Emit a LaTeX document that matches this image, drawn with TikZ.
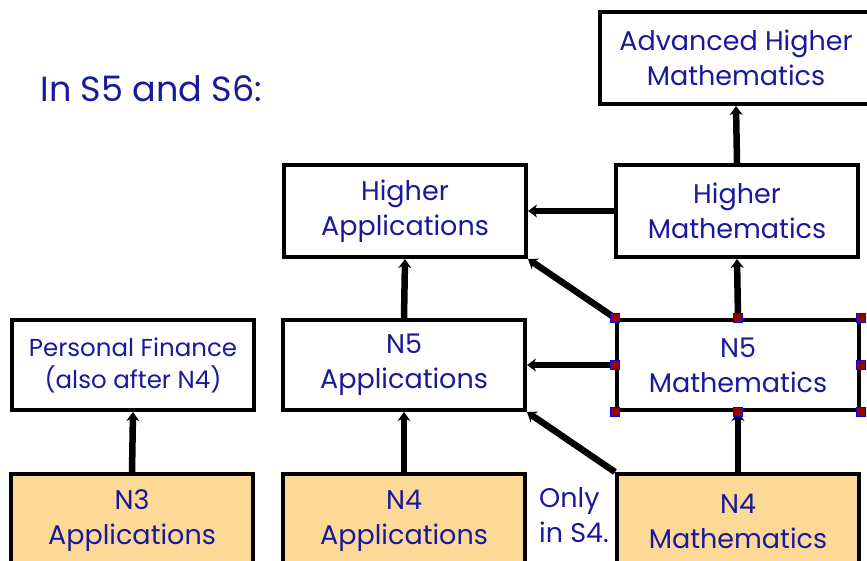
\documentclass[tikz,border=0pt]{standalone}
\usepackage{fontspec}
\setmainfont{Poppins}
\usepackage{xcolor}
\usepackage{tikz}
\usetikzlibrary{arrows.meta,positioning}
\definecolor{txtblue}{RGB}{25,25,155}
\definecolor{nfour}{RGB}{253,217,151}

\begin{document}
\begin{tikzpicture}[
        x=1pt, y=-1pt,
        font=\fontsize{27}{35}\selectfont,
        box/.style={draw, line width=4pt, align=center, text=txtblue, inner sep=0pt},
        wide/.style={box, minimum width=242pt, minimum height=92pt},
        lvl/.style={wide, fill=nfour},
        conn/.style={line width=6.5pt, -{Stealth[length=9pt,width=13pt]}},
        hdl/.style={draw=blue, fill=red!60!black, line width=1.2pt, minimum size=9pt, inner sep=0pt}
    ]
        \useasboundingbox (0,0) rectangle (867,561);
        \clip (0,0) rectangle (867,561);
        % heading
        \node[text=txtblue, anchor=west, font=\fontsize{35}{35}\selectfont] (title) at (37,89) {In S5 and S6:};
        % S5/S6 courses
        \node[box, minimum width=272pt, minimum height=92pt] (ahm) at (736,58) {Advanced Higher\\Mathematics};
        \node[wide] (ha) at (405,211) {Higher\\Applications};
        \node[wide] (hm) at (737,211) {Higher\\Mathematics};
        \node[wide, minimum height=90pt, font=\fontsize{24.5}{32}\selectfont] (pf) at (133,365) {Personal Finance\\(also after N4)};
        \node[wide, minimum height=90pt] (nfa) at (404,365) {N5\\Applications};
        \node[wide, minimum height=90pt] (nfm) at (738,365) {N5\\Mathematics};
        % S4 courses
        \node[lvl, minimum height=94pt] (nta) at (132,521) {N3\\Applications};
        \node[lvl, minimum height=94pt] (nqa) at (404,521) {N4\\Applications};
        \node[lvl, minimum height=94pt] (nqm) at (738,521) {N4\\Mathematics};
        \node[text=txtblue, align=left] (only) at (574,515) {Only\\in S4.};
        % routes
        \draw[conn] (hm.north) -- (ahm.south);
        \draw[conn] (hm.west) -- (ha.east);
        \draw[conn] (nfm.north west) -- (ha.south east);
        \draw[conn] (nfa.north) -- (ha.south);
        \draw[conn] (nfm.north) -- (hm.south);
        \draw[conn] (nta.north) -- (pf.south);
        \draw[conn] (nqa.north) -- (nfa.south);
        \draw[conn] (nfm.west) -- (nfa.east);
        \draw[conn] (nqm.north west) -- (nfa.south east);
        \draw[conn] (nqm.north) -- (nfm.south);
        % selection handles
        \foreach \a in {north west,north,north east,east,south east,south,south west,west}
            \node[hdl] at (nfm.\a) {};
    \end{tikzpicture}
\end{document}
